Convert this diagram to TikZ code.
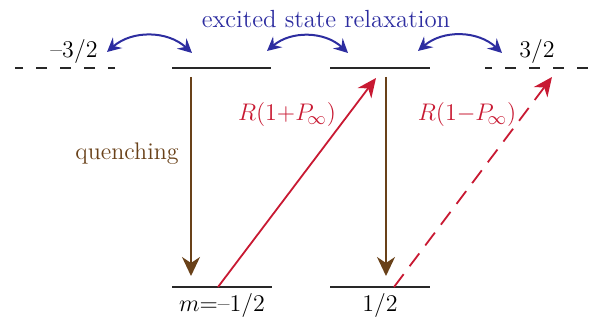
\documentclass[tikz,border=0pt]{standalone}
\usepackage{amsmath}
\usepackage{tikz}
\usetikzlibrary{arrows.meta, positioning, calc}
\definecolor{relaxblue}{RGB}{45,45,160}
\definecolor{pumpred}{RGB}{200,25,50}
\definecolor{quenchbrown}{RGB}{105,65,25}
\definecolor{levelgray}{RGB}{40,40,40}

\begin{document}
\begin{tikzpicture}[x=0.5pt, y=-0.5pt, font=\fontsize{12}{14}\selectfont,
                    level/.style={levelgray, line width=1.1pt},
                    virtual/.style={levelgray, line width=0.9pt, dash pattern=on 5.5pt off 6.5pt, dash phase=2pt},
                    relax/.style={relaxblue, line width=1pt, {Stealth[length=7pt, width=7pt, inset=2.5pt]}-{Stealth[length=7pt, width=7pt, inset=2.5pt]}, bend left=42},
                    quench/.style={quenchbrown, line width=0.9pt, -{Stealth[length=9.5pt, width=9pt, inset=3pt]}},
                    pump/.style={pumpred, line width=0.9pt, -{Stealth[length=9.5pt, width=8.5pt, inset=3pt]}}]
                    \useasboundingbox (0,0) rectangle (590,320);

                    % Levels
                    \draw[virtual] (115,68) -- (15,68);
                    \draw[level] (172,68) -- (271,68);
                    \draw[level, line width=1.4pt] (330,68) -- (430,68);
                    \draw[virtual] (485,68) -- (590,68);
                    \draw[level] (172,287) -- (272,287);
                    \draw[level] (330,287) -- (430,287);

                    % Level labels
                    \node (lm32) at (74,52) {--3/2};
                    \node (lp32) at (537,52) {3/2};
                    \node (lm12) at (222,306) {$m$=--1/2};
                    \node (lp12) at (380,306) {1/2};
                    \node[relaxblue, font=\fontsize{12.4}{14}\selectfont] (relaxtxt) at (326,19) {excited state relaxation};

                    % Arc ends
                    \coordinate (a1) at (107,52); \coordinate (b1) at (192,53);
                    \coordinate (a2) at (267,51); \coordinate (b2) at (348,53);
                    \coordinate (a3) at (418,51); \coordinate (b3) at (502,53);

                    % Vertical transitions
                    \coordinate (q1t) at (191,77); \coordinate (q1b) at (191,276);
                    \coordinate (q2t) at (386,77); \coordinate (q2b) at (386,276);
                    \coordinate (p1b) at (218,287); \coordinate (p1t) at (376,78);
                    \coordinate (p2b) at (394,287); \coordinate (p2t) at (552,77);

                    % Relaxation
                    \draw[relax] (a1) to (b1);
                    \draw[relax] (a2) to (b2);
                    \draw[relax] (a3) to (b3);

                    % Quenching
                    \draw[quench] (q1t) -- (q1b);
                    \draw[quench] (q2t) -- (q2b);
                    \node[quenchbrown] (quenchtxt) at (127,154) {quenching};

                    % Pumping
                    \draw[pump] (p1b) -- (p1t);
                    \draw[pump, dash pattern=on 8pt off 5pt] (p2b) -- (p2t);
                    \node[pumpred, font=\fontsize{12.5}{15}\selectfont] (plus) at (287,115) {$R(1{+}P_{\!\infty})$};
                    \node[pumpred, font=\fontsize{12.5}{15}\selectfont] (minus) at (467,115) {$R(1{-}P_{\!\infty})$};
                \end{tikzpicture}
\end{document}
